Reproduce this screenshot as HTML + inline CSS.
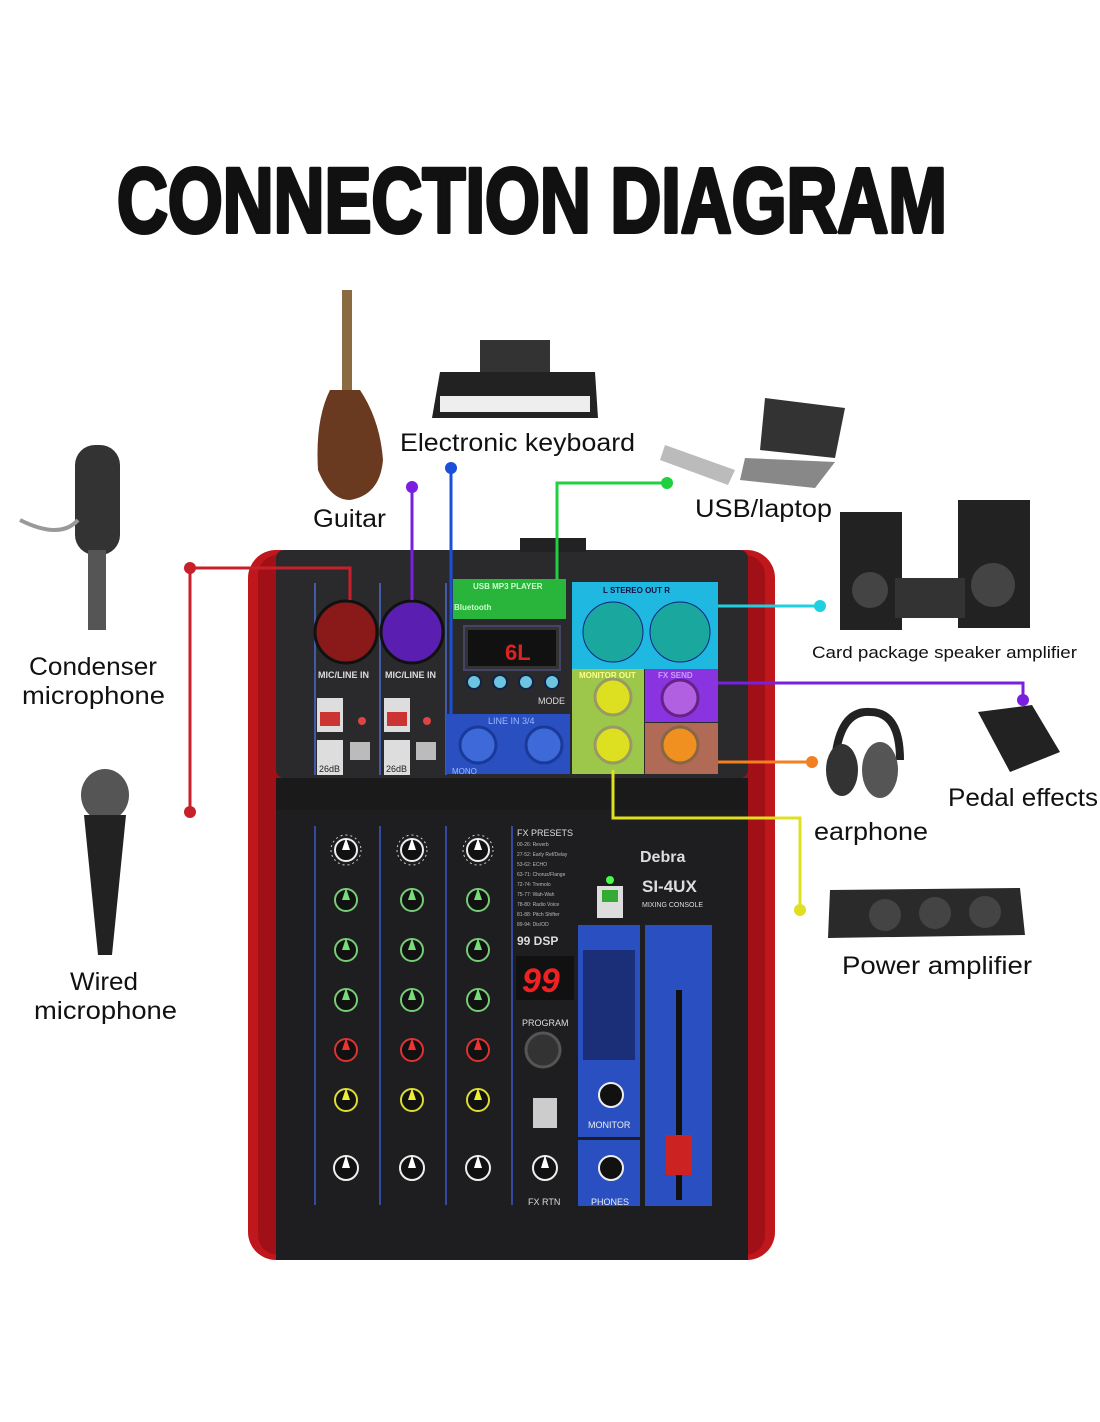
<!DOCTYPE html>
<html><head><meta charset="utf-8"><style>
html,body{margin:0;padding:0;background:#fff;}
svg{display:block}
text{font-family:"Liberation Sans",sans-serif}
</style></head><body>
<svg width="1100" height="1422" viewBox="0 0 1100 1422" xmlns="http://www.w3.org/2000/svg">
<rect width="1100" height="1422" fill="#fff"/>
<!-- Title -->
<text x="117" y="232" font-size="92" font-weight="bold" textLength="830" lengthAdjust="spacingAndGlyphs" fill="#111" stroke="#111" stroke-width="4" stroke-linejoin="round">CONNECTION DIAGRAM</text>

<!-- Mixer body -->
<rect x="248" y="550" width="527" height="710" rx="28" fill="#c0171c"/>
<rect x="258" y="555" width="507" height="700" rx="20" fill="#a01016"/>
<rect x="276" y="550" width="472" height="228" rx="8" fill="#2a2a2c"/>
<rect x="276" y="778" width="472" height="32" fill="#1a1a1a"/>
<rect x="276" y="810" width="472" height="450" fill="#1e1e20"/>
<rect x="520" y="538" width="66" height="14" fill="#222"/>
<!-- top panel -->
<line x1="315" y1="583" x2="315" y2="775" stroke="#4a6ad0" stroke-width="1.5"/>
<line x1="380" y1="583" x2="380" y2="775" stroke="#4a6ad0" stroke-width="1.5"/>
<line x1="446" y1="583" x2="446" y2="775" stroke="#4a6ad0" stroke-width="1.5"/>
<circle cx="346" cy="632" r="31" fill="#8a1a1a" stroke="#111" stroke-width="3"/>
<circle cx="412" cy="632" r="31" fill="#5a1fb0" stroke="#111" stroke-width="3"/>
<text x="318" y="678" font-size="9" font-weight="bold" fill="#ddd">MIC/LINE IN</text>
<text x="385" y="678" font-size="9" font-weight="bold" fill="#ddd">MIC/LINE IN</text>
<rect x="317" y="698" width="26" height="34" fill="#ddd"/><rect x="320" y="712" width="20" height="14" fill="#c33"/>
<rect x="384" y="698" width="26" height="34" fill="#ddd"/><rect x="387" y="712" width="20" height="14" fill="#c33"/>
<circle cx="362" cy="721" r="4" fill="#d44"/><circle cx="427" cy="721" r="4" fill="#d44"/>
<rect x="317" y="740" width="26" height="35" fill="#ddd"/><rect x="350" y="742" width="20" height="18" fill="#bbb"/>
<rect x="384" y="740" width="26" height="35" fill="#ddd"/><rect x="416" y="742" width="20" height="18" fill="#bbb"/>
<text x="319" y="772" font-size="9" fill="#222">26dB</text><text x="386" y="772" font-size="9" fill="#222">26dB</text>
<rect x="453" y="579" width="113" height="40" fill="#29b43c"/>
<text x="473" y="589" font-size="8" font-weight="bold" fill="#cfc">USB MP3 PLAYER</text>
<text x="454" y="610" font-size="8" font-weight="bold" fill="#cfc">Bluetooth</text>
<rect x="464" y="626" width="96" height="44" fill="#333" stroke="#446" stroke-width="2"/>
<rect x="468" y="630" width="88" height="36" fill="#111"/>
<text x="505" y="660" font-size="22" font-weight="bold" fill="#d22">6L</text>
<g fill="#6cc4e0" stroke="#124" stroke-width="2"><circle cx="474" cy="682" r="7"/><circle cx="500" cy="682" r="7"/><circle cx="526" cy="682" r="7"/><circle cx="552" cy="682" r="7"/></g>
<text x="538" y="704" font-size="9" fill="#ddd">MODE</text>
<rect x="446" y="714" width="124" height="60" fill="#2a4fc0"/>
<text x="488" y="724" font-size="9" fill="#9bf">LINE IN 3/4</text>
<circle cx="478" cy="745" r="18" fill="#3d6ad8" stroke="#1a3a9a" stroke-width="3"/>
<circle cx="544" cy="745" r="18" fill="#3d6ad8" stroke="#1a3a9a" stroke-width="3"/>
<text x="452" y="774" font-size="8" fill="#9bf">MONO</text>
<rect x="572" y="582" width="146" height="87" fill="#1fb8e0"/>
<text x="603" y="593" font-size="8" font-weight="bold" fill="#114">L  STEREO OUT  R</text>
<circle cx="613" cy="632" r="30" fill="#1aa89e" stroke="#128" stroke-width="1"/>
<circle cx="680" cy="632" r="30" fill="#1aa89e" stroke="#128" stroke-width="1"/>
<rect x="572" y="669" width="72" height="105" fill="#9cc74a"/>
<text x="579" y="678" font-size="8" font-weight="bold" fill="#ff8">MONITOR OUT</text>
<circle cx="613" cy="697" r="18" fill="#dde020" stroke="#996" stroke-width="3"/>
<circle cx="613" cy="745" r="18" fill="#dde020" stroke="#996" stroke-width="3"/>
<rect x="645" y="669" width="73" height="53" fill="#8a33e0"/>
<text x="658" y="678" font-size="8" font-weight="bold" fill="#c9f">FX SEND</text>
<circle cx="680" cy="698" r="18" fill="#b060e0" stroke="#628" stroke-width="3"/>
<rect x="645" y="723" width="73" height="51" fill="#b06a55"/>
<circle cx="680" cy="745" r="18" fill="#f09020" stroke="#864" stroke-width="3"/>

<!-- lower panel -->
<g stroke="#3a5ac8" stroke-width="1.5">
<line x1="315" y1="826" x2="315" y2="1205"/><line x1="380" y1="826" x2="380" y2="1205"/>
<line x1="446" y1="826" x2="446" y2="1205"/><line x1="512" y1="826" x2="512" y2="1205"/>
</g>
<g id="col">
<circle cx="346" cy="850" r="15" fill="none" stroke="#ccc" stroke-width="1" stroke-dasharray="2 3"/><circle cx="346" cy="850" r="11" fill="#111" stroke="#eee" stroke-width="2"/><path d="M342 850 L346 838 L350 850Z" fill="#fff"/>
<circle cx="346" cy="900" r="11" fill="#111" stroke="#7c7" stroke-width="2"/><path d="M342 900 L346 888 L350 900Z" fill="#7d7"/>
<circle cx="346" cy="950" r="11" fill="#111" stroke="#7c7" stroke-width="2"/><path d="M342 950 L346 938 L350 950Z" fill="#7d7"/>
<circle cx="346" cy="1000" r="11" fill="#111" stroke="#7c7" stroke-width="2"/><path d="M342 1000 L346 988 L350 1000Z" fill="#7d7"/>
<circle cx="346" cy="1050" r="11" fill="#111" stroke="#d33" stroke-width="2"/><path d="M342 1050 L346 1038 L350 1050Z" fill="#e33"/>
<circle cx="346" cy="1100" r="11" fill="#111" stroke="#dd3" stroke-width="2"/><path d="M342 1100 L346 1088 L350 1100Z" fill="#ee3"/>
<circle cx="346" cy="1168" r="12" fill="#111" stroke="#eee" stroke-width="2"/><path d="M342 1168 L346 1155 L350 1168Z" fill="#fff"/>
</g>
<use href="#col" x="66"/><use href="#col" x="132"/>
<text x="517" y="836" font-size="9" fill="#ddd">FX PRESETS</text>
<g font-size="5" fill="#bbb"><text x="517" y="846">00-26: Reverb</text><text x="517" y="856">27-52: Early Ref/Delay</text><text x="517" y="866">53-62: ECHO</text><text x="517" y="876">63-71: Chorus/Flange</text><text x="517" y="886">72-74: Tremolo</text><text x="517" y="896">75-77: Wah-Wah</text><text x="517" y="906">78-80: Radio Voice</text><text x="517" y="916">81-88: Pitch Shifter</text><text x="517" y="926">89-94: Dis/OD</text></g>
<text x="517" y="945" font-size="12" font-weight="bold" fill="#ddd">99 DSP</text>
<rect x="516" y="956" width="58" height="44" fill="#111"/>
<text x="522" y="992" font-size="34" font-weight="bold" font-style="italic" fill="#e22">99</text>
<text x="522" y="1026" font-size="9" fill="#ddd">PROGRAM</text>
<circle cx="543" cy="1050" r="17" fill="#333" stroke="#555" stroke-width="3"/>
<rect x="533" y="1098" width="24" height="30" fill="#ccc"/>
<circle cx="545" cy="1168" r="12" fill="#111" stroke="#eee" stroke-width="2"/><path d="M541 1168 L545 1155 L549 1168Z" fill="#fff"/>
<text x="528" y="1205" font-size="9" fill="#ddd">FX RTN</text>
<text x="640" y="862" font-size="16" font-weight="bold" fill="#ddd">Debra</text>
<text x="642" y="892" font-size="17" font-weight="bold" fill="#ddd">SI-4UX</text>
<text x="642" y="907" font-size="7" fill="#ddd">MIXING CONSOLE</text>
<rect x="597" y="886" width="26" height="32" fill="#ddd"/><rect x="602" y="890" width="16" height="12" fill="#3a3"/>
<circle cx="610" cy="880" r="4" fill="#4f4"/>
<rect x="578" y="925" width="62" height="212" fill="#2a4fc0"/>
<rect x="578" y="1140" width="62" height="66" fill="#2a4fc0"/>
<rect x="645" y="925" width="67" height="281" fill="#2a4fc0"/>
<rect x="583" y="950" width="52" height="110" fill="#1b2e78"/>
<circle cx="611" cy="1095" r="12" fill="#111" stroke="#eee" stroke-width="2"/>
<text x="588" y="1128" font-size="9" fill="#eee">MONITOR</text>
<circle cx="611" cy="1168" r="12" fill="#111" stroke="#eee" stroke-width="2"/>
<text x="591" y="1205" font-size="9" fill="#eee">PHONES</text>
<rect x="676" y="990" width="6" height="210" fill="#111"/>
<rect x="666" y="1135" width="26" height="40" fill="#c22"/>

<!-- connectors -->
<g fill="none" stroke-width="3">
<polyline points="190,568 350,568 350,600" stroke="#c8202a"/>
<line x1="190" y1="568" x2="190" y2="812" stroke="#c8202a"/>
<line x1="412" y1="487" x2="412" y2="600" stroke="#7a1fe0"/>
<line x1="451" y1="468" x2="451" y2="716" stroke="#1a50d8"/>
<polyline points="667,483 557,483 557,580" stroke="#20d040"/>
<line x1="718" y1="606" x2="820" y2="606" stroke="#20d0e0"/>
<polyline points="718,683 1023,683 1023,700" stroke="#7a1fe0"/>
<line x1="718" y1="762" x2="812" y2="762" stroke="#f08020"/>
<polyline points="613,770 613,818 800,818 800,910" stroke="#e0e020"/>
</g>
<circle cx="190" cy="568" r="6" fill="#c8202a"/><circle cx="190" cy="812" r="6" fill="#c8202a"/>
<circle cx="412" cy="487" r="6" fill="#7a1fe0"/><circle cx="451" cy="468" r="6" fill="#1a50d8"/>
<circle cx="667" cy="483" r="6" fill="#20d040"/><circle cx="820" cy="606" r="6" fill="#20d0e0"/>
<circle cx="1023" cy="700" r="6" fill="#7a1fe0"/><circle cx="812" cy="762" r="6" fill="#f08020"/>
<circle cx="800" cy="910" r="6" fill="#e0e020"/>

<!-- devices -->
<rect x="75" y="445" width="45" height="110" rx="20" fill="#333"/>
<rect x="88" y="550" width="18" height="80" fill="#555"/>
<path d="M20 520 Q60 540 78 520" stroke="#999" stroke-width="4" fill="none"/>
<ellipse cx="105" cy="795" rx="24" ry="26" fill="#555"/>
<path d="M84 815 L126 815 L112 955 L98 955 Z" fill="#222"/>
<rect x="342" y="290" width="10" height="100" fill="#8a6a40"/>
<path d="M330 390 Q315 420 318 470 Q330 500 350 500 Q380 495 383 460 Q380 420 360 390 Z" fill="#6a3a20"/>
<rect x="480" y="340" width="70" height="32" fill="#333"/>
<path d="M440 372 L595 372 L598 418 L432 418 Z" fill="#222"/>
<rect x="440" y="396" width="150" height="16" fill="#eee"/>
<path d="M665 445 L735 470 L728 485 L660 460 Z" fill="#bbb"/>
<path d="M765 398 L845 408 L835 458 L760 450 Z" fill="#333"/>
<path d="M745 458 L835 462 L815 488 L740 480 Z" fill="#888"/>
<rect x="840" y="512" width="62" height="118" fill="#222"/>
<rect x="958" y="500" width="72" height="128" fill="#222"/>
<circle cx="870" cy="590" r="18" fill="#444"/><circle cx="993" cy="585" r="22" fill="#444"/>
<rect x="895" y="578" width="70" height="40" fill="#333"/>
<path d="M835 760 Q840 710 870 712 Q900 712 900 760" stroke="#222" stroke-width="8" fill="none"/>
<ellipse cx="842" cy="770" rx="16" ry="26" fill="#333"/><ellipse cx="880" cy="770" rx="18" ry="28" fill="#555"/>
<path d="M978 712 L1032 705 L1060 752 L1010 772 Z" fill="#222"/>
<path d="M830 890 L1020 888 L1025 935 L828 938 Z" fill="#2a2a2a"/>
<circle cx="885" cy="915" r="16" fill="#444"/><circle cx="935" cy="913" r="16" fill="#444"/><circle cx="985" cy="912" r="16" fill="#444"/>

<!-- labels -->
<g fill="#111" font-size="25">
<text x="400" y="451" textLength="235" lengthAdjust="spacingAndGlyphs">Electronic keyboard</text>
<text x="313" y="527" textLength="73" lengthAdjust="spacingAndGlyphs">Guitar</text>
<text x="695" y="517" textLength="137" lengthAdjust="spacingAndGlyphs">USB/laptop</text>
<text x="29" y="675" textLength="128" lengthAdjust="spacingAndGlyphs">Condenser</text>
<text x="22" y="704" textLength="143" lengthAdjust="spacingAndGlyphs">microphone</text>
<text x="948" y="806" textLength="150" lengthAdjust="spacingAndGlyphs">Pedal effects</text>
<text x="814" y="840" textLength="114" lengthAdjust="spacingAndGlyphs">earphone</text>
<text x="842" y="974" textLength="190" lengthAdjust="spacingAndGlyphs">Power amplifier</text>
<text x="70" y="990" textLength="68" lengthAdjust="spacingAndGlyphs">Wired</text>
<text x="34" y="1019" textLength="143" lengthAdjust="spacingAndGlyphs">microphone</text>
</g>
<text x="812" y="658" font-size="17" fill="#111" textLength="265" lengthAdjust="spacingAndGlyphs">Card package speaker amplifier</text>
</svg>
</body></html>
